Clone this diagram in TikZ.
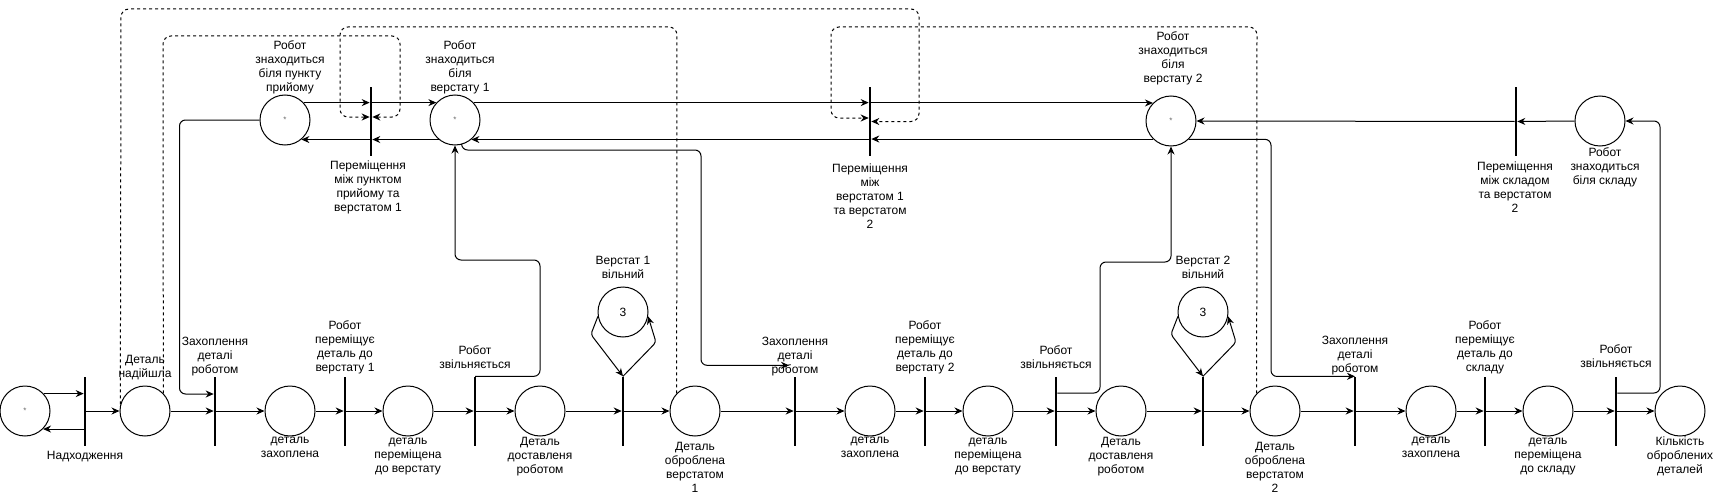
\documentclass[tikz,border=0pt]{standalone}
\usepackage{fontspec}
\setmainfont{Liberation Sans}
\usetikzlibrary{arrows.meta,calc}
\begin{document}
\begin{tikzpicture}[x=1pt,y=-1pt,
  place/.style={circle,draw,line width=1pt,minimum size=50pt,inner sep=0pt,font=\fontsize{12}{14}\selectfont},
  tokplace/.style={place,font=\fontsize{8}{8}\selectfont,text=black!60},
  trans/.style={rectangle,fill=black,minimum width=2.2pt,minimum height=69pt,inner sep=0pt},
  lbl/.style={align=center,font=\fontsize{12}{14}\selectfont,inner sep=0pt},
  arr/.style={-{Stealth[length=8pt,width=7pt]},line width=1pt},
  rarr/.style={arr,rounded corners=6pt},
  dsh/.style={arr,dash pattern=on 3pt off 3pt,rounded corners=8pt}
]
\useasboundingbox (0,0) rectangle (1719,495);

% bottom row places
\node[tokplace] (p1) at (25,411) {*};
\node[place] (p2) at (145,411) {};
\node[place] (p3) at (290,411) {};
\node[place] (p4) at (408,411) {};
\node[place] (p5) at (540,411) {};
\node[place] (p6) at (695,411) {};
\node[place] (p7) at (870,411) {};
\node[place] (p8) at (988,411) {};
\node[place] (p9) at (1121,411) {};
\node[place] (p10) at (1275,411) {};
\node[place] (p11) at (1431,411) {};
\node[place] (p12) at (1548,411) {};
\node[place] (p13) at (1680,411) {};
% bottom row transitions
\node[trans] (t1) at (85,411) {};
\node[trans] (t2) at (215,411) {};
\node[trans] (t3) at (345,411) {};
\node[trans] (t4) at (475,411) {};
\node[trans] (t5) at (623,411) {};
\node[trans] (t6) at (795,411) {};
\node[trans] (t7) at (925,411) {};
\node[trans] (t8) at (1056,411) {};
\node[trans] (t9) at (1203,411) {};
\node[trans] (t10) at (1355,411) {};
\node[trans] (t11) at (1485,411) {};
\node[trans] (t12) at (1616,411) {};
% machine places
\node[place] (m1) at (623,312) {3};
\node[place] (m2) at (1203,312) {3};
% top row
\node[tokplace] (pR) at (285,120) {*};
\node[trans] (tA) at (371,121.5) {};
\node[tokplace] (pV1) at (455,120) {*};
\node[trans] (tB) at (870,121.5) {};
\node[tokplace] (pV2) at (1171,121) {*};
\node[trans] (tC) at (1516,121.5) {};
\node[place] (pW) at (1600,121) {};

% labels
\node[lbl] (l1) at (85,457) {Надходження};
\node[lbl] (l2) at (145,368) {Деталь\\надійшла};
\node[lbl] (l3) at (215,357) {Захоплення\\деталі\\роботом};
\node[lbl] (l4) at (290,447) {деталь\\захоплена};
\node[lbl] (l5) at (345,347) {Робот\\переміщує\\деталь до\\верстату 1};
\node[lbl] (l6) at (408,457) {деталь\\переміщена\\до верстату};
\node[lbl] (l7) at (475,357) {Робот\\звільняється};
\node[lbl] (l8) at (540,457) {Деталь\\доставленя\\роботом};
\node[lbl] (l9) at (695,467) {Деталь\\оброблена\\верстатом\\1};
\node[lbl] (l10) at (795,357) {Захоплення\\деталі\\роботом};
\node[lbl] (l11) at (870,447) {деталь\\захоплена};
\node[lbl] (l12) at (925,347) {Робот\\переміщує\\деталь до\\верстату 2};
\node[lbl] (l13) at (988,457) {деталь\\переміщена\\до верстату};
\node[lbl] (l14) at (1056,357) {Робот\\звільняється};
\node[lbl] (l15) at (1121,457) {Деталь\\доставленя\\роботом};
\node[lbl] (l16) at (1275,467) {Деталь\\оброблена\\верстатом\\2};
\node[lbl] (l17) at (1355,356) {Захоплення\\деталі\\роботом};
\node[lbl] (l18) at (1431,447) {деталь\\захоплена};
\node[lbl] (l19) at (1485,347) {Робот\\переміщує\\деталь до\\складу};
\node[lbl] (l20) at (1548,457) {деталь\\переміщена\\до складу};
\node[lbl] (l21) at (1616,356) {Робот\\звільняється};
\node[lbl] (l22) at (1680,456) {Кількість\\оброблених\\деталей};
\node[lbl] (l23) at (623,267) {Верстат 1\\вільний};
\node[lbl] (l24) at (1203,267) {Верстат 2\\вільний};
\node[lbl] (l25) at (290,67) {Робот\\знаходиться\\біля пункту\\прийому};
\node[lbl] (l26) at (460,67) {Робот\\знаходиться\\біля\\верстату 1};
\node[lbl] (l27) at (368,187) {Переміщення\\між пунктом\\прийому та\\верстатом 1};
\node[lbl] (l28) at (870,196) {Переміщення\\між\\верстатом 1\\та верстатом\\2};
\node[lbl] (l29) at (1173,58) {Робот\\знаходиться\\біля\\верстату 2};
\node[lbl] (l30) at (1515,187) {Переміщення\\між складом\\та верстатом\\2};
\node[lbl] (l31) at (1605,167) {Робот\\знаходиться\\біля складу};

% bottom chain
\draw[arr] (p1.43) -- (p1.43 -| t1.west);
\draw[arr] (p1.-45 -| t1.west) -- (p1.-45);
\foreach \a/\b in {t1/p2,p2/t2,t2/p3,p3/t3,t3/p4,p4/t4,t4/p5,p5/t5,t5/p6,p6/t6,t6/p7,p7/t7,t7/p8,p8/t8,t8/p9,p9/t9,t9/p10,p10/t10,t10/p11,p11/t11,t11/p12,p12/t12,t12/p13}
  \draw[arr] (\a.east) -- (\b.west);

% machine loops
\draw[arr,rounded corners=3pt] (m1.190) -- ++(-7,18) -- (t5.north);
\draw[arr,rounded corners=3pt] (t5.north) -- ++(33,-34) -- (m1.-10);
\draw[arr,rounded corners=3pt] (m2.190) -- ++(-7,18) -- (t9.north);
\draw[arr,rounded corners=3pt] (t9.north) -- ++(33,-34) -- (m2.-10);

% top row
\draw[arr] (pR.43) -- (pR.43 -| tA.west);
\draw[arr] (pV1.137 -| tA.east) -- (pV1.137);
\draw[arr] (pV1.-130) -- (pV1.-130 -| tA.east);
\draw[arr] (pR.-50 -| tA.west) -- (pR.-50);
\draw[arr] (pV1.43) -- (pV1.43 -| tB.west);
\draw[arr] (pV2.135 -| tB.east) -- (pV2.135);
\draw[arr] (pV2.-135) -- (pV2.-135 -| tB.east);
\draw[arr] (pV1.-50 -| tB.west) -- (pV1.-50);
\draw[arr] (pW.west) -- (tC.east);
\draw[arr] (tC.west) -- (pV2.east);

% long connectors
\draw[rarr] (pR.west) -- ++(-80,0) |- ($(t2.west)+(0,-17)$);
\draw[rarr] (t4.north) -| (540,260) -| (pV1.south);
\draw[rarr] (pV1.-75) |- (701,150) |- ($(t6.north)+(-6,-11)$);
\draw[rarr] ($(t8.east)+(0,-18)$) -| (1100,262) -| (pV2.south);
\draw[rarr] (pV2.-46) -| (1271,376.5) -- (t10.north);
\draw[rarr] ($(t12.east)+(0,-18)$) -| (1660,121) -- (pW.east);

% dashed arcs
\draw[dsh] (p2.165) -- (121,9) -- (919,9) -- (919,121.5) -- (tB.east);
\draw[dsh] (p2.44) -- (163,36) -- (400,36) -- (400,117) -- ($(tA.east)+(0,-4.5)$);
\draw[dsh] (p6.136) -- (677,27) -- (340,27) -- (340,117) -- ($(tA.west)+(0,-4.5)$);
\draw[dsh] (p10.136) -- (1257,27) -- (831,27) -- (831,118) -- ($(tB.west)+(0,-3.5)$);
\end{tikzpicture}
\end{document}
